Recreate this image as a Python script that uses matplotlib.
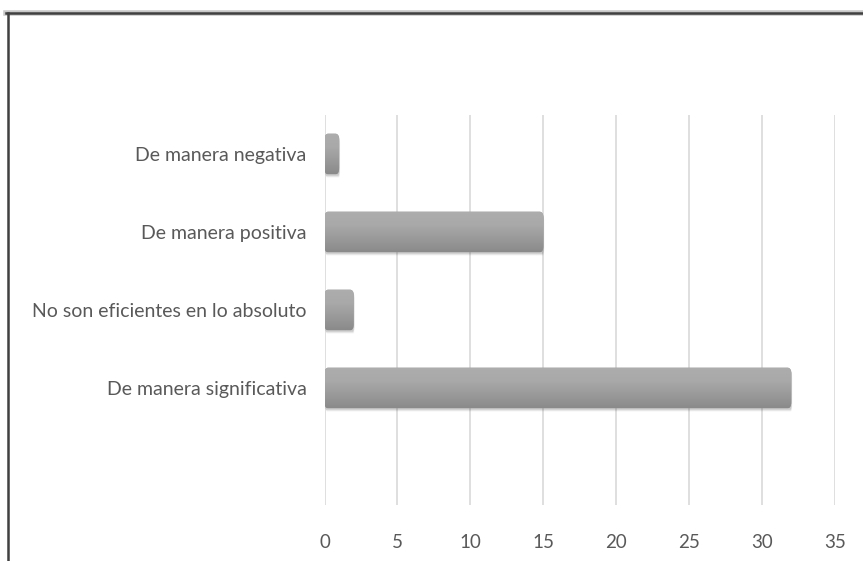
import numpy as np
import matplotlib
matplotlib.use("Agg")
import matplotlib.pyplot as plt
from matplotlib.patches import FancyBboxPatch
from matplotlib.lines import Line2D

# Survey answers (bottom to top) and their counts
categories = [
    "De manera significativa",
    "No son eficientes en lo absoluto",
    "De manera positiva",
    "De manera negativa",
]
counts = [32, 2, 15, 1]
x_ticks = [0, 5, 10, 15, 20, 25, 30, 35]

plt.rcParams["font.family"] = ["Lato", "DejaVu Sans"]

W, H = 863, 561
fig = plt.figure(figsize=(W / 100, H / 100), dpi=100)
fig.patch.set_facecolor("white")

ax = fig.add_axes([324.5 / W, 56 / H, (835 - 324.5) / W, 390 / H])
ax.set_xlim(0, 35)
ax.set_ylim(-1.5, 3.5)

ypos = np.arange(len(categories))
bar_h = 0.52

# invisible bars give the geometry; the shading is painted on top
bars = ax.barh(ypos, counts, height=bar_h, color="none", edgecolor="none", zorder=3)

grad = np.linspace(0, 1, 256).reshape(-1, 1)
cmap = matplotlib.colors.LinearSegmentedColormap.from_list(
    "bar", ["#8a8a8a", "#9a9a9a", "#a9a9a9", "#adadad"])

for rect in bars:
    x0, y0 = rect.get_x(), rect.get_y()
    w, h = rect.get_width(), rect.get_height()
    # soft drop shadow toward the lower right
    for k, a in enumerate([0.04, 0.05, 0.06, 0.07]):
        off = 0.12 - k * 0.025
        sh = FancyBboxPatch((x0 + off * 0.6, y0 - off * 0.35), w, h,
                            boxstyle="round,pad=0,rounding_size=0.1",
                            mutation_aspect=1.0,
                            facecolor="black", edgecolor="none", alpha=a, zorder=2)
        ax.add_patch(sh)
    box = FancyBboxPatch((x0, y0), w, h,
                         boxstyle="round,pad=0,rounding_size=0.25",
                         mutation_aspect=0.3,
                         facecolor="#9c9c9c", edgecolor="none", zorder=3)
    ax.add_patch(box)
    im = ax.imshow(grad, cmap=cmap, aspect="auto", origin="lower",
                   extent=(x0, x0 + w, y0, y0 + h), zorder=4)
    im.set_clip_path(box)

ax.set_yticks(ypos)
ax.set_yticklabels(categories, fontsize=14, color="#595959")
ax.set_xticks(x_ticks)
ax.set_xticklabels([str(t) for t in x_ticks], fontsize=13.5, color="#595959")
ax.tick_params(axis="y", length=0, pad=13)
ax.tick_params(axis="x", length=0, pad=21)

ax.grid(axis="x", color="#dcdcdc", linewidth=1.3, zorder=0)
ax.set_axisbelow(True)
for s in ax.spines.values():
    s.set_visible(False)

# frame around the chart area (top and left edges)
fig.add_artist(Line2D([6 / W, 1.0], [1 - 13 / H, 1 - 13 / H],
                      transform=fig.transFigure, color="#c8c8c8", linewidth=4.0))
fig.add_artist(Line2D([6 / W, 1.0], [1 - 13 / H, 1 - 13 / H],
                      transform=fig.transFigure, color="#404040", linewidth=1.8))
fig.add_artist(Line2D([8 / W, 8 / W], [0, 1 - 13 / H],
                      transform=fig.transFigure, color="#404040", linewidth=1.8))

fig.savefig("out.png", dpi=100, facecolor="white")
